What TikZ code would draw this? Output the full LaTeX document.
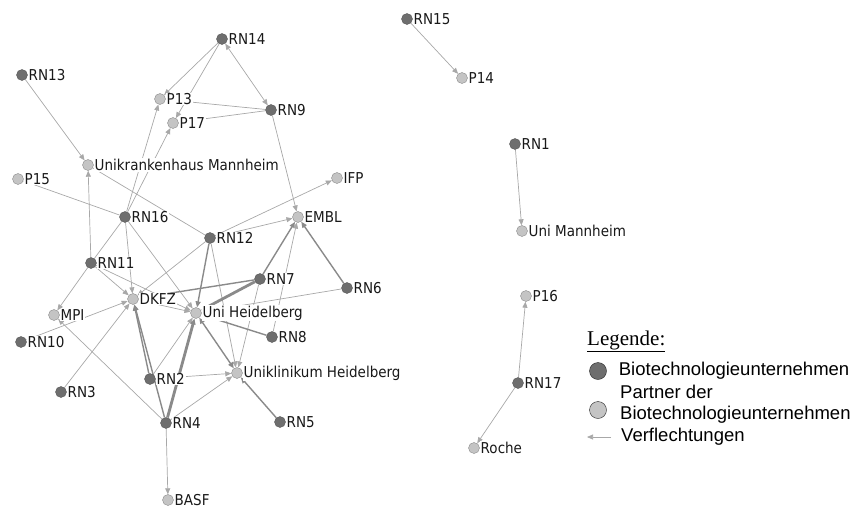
\documentclass[tikz,border=0pt]{standalone}
\usepackage{fontspec}
\setmainfont{Liberation Serif}
\newfontfamily\netfont[FakeStretch=0.9]{DejaVu Sans}
\newfontfamily\legfont{Liberation Sans}
\usetikzlibrary{arrows.meta,backgrounds,positioning}

\definecolor{firmgray}{HTML}{6E6E6E}
\definecolor{partnergray}{HTML}{C4C4C4}
\definecolor{tiegray}{HTML}{A8A8A8}
\definecolor{strongtie}{HTML}{8A8A8A}

\tikzset{
	firm/.style={
		circle, inner sep=0pt, minimum size=11pt,
		fill=firmgray, draw=black!65, thin
	},
	%
	partner/.style={
		circle, inner sep=0pt, minimum size=11pt,
		fill=partnergray, draw=black!45, thin
	},
	%
	lbl/.style={
		fill=white, inner sep=0.8pt, text=black!90,
		font=\netfont\fontsize{15}{15}\selectfont
	},
	%
	tie/.style={draw=tiegray, line width=0.7pt},
	link/.style={tie, -{Triangle[length=6pt,width=5pt]}},
	twoway/.style={link, {Triangle[length=6pt,width=5pt]}-{Triangle[length=6pt,width=5pt]}},
	midlink/.style={link, draw=strongtie, line width=1.4pt},
	heavylink/.style={link, draw=strongtie, line width=2.8pt},
	%
	legtext/.style={inner sep=0pt, font=\legfont\fontsize{18.5}{21}\selectfont, align=left}
}

\begin{document}
\begin{tikzpicture}[x=1pt,y=-1pt]
\useasboundingbox (0,0) rectangle (857,509);

%actors
\node[firm, label={[lbl]right:RN14}] (rn14) at (222,39) {};
\node[firm, label={[lbl]right:RN13}] (rn13) at (22,75) {};
\node[partner, label={[lbl]right:P13}] (p13) at (160,99) {};
\node[partner, label={[lbl]right:P17}] (p17) at (173,123) {};
\node[firm, label={[lbl]right:RN9}] (rn9) at (271,110) {};
\node[partner, label={[lbl]right:Unikrankenhaus Mannheim}] (ukm) at (88,165) {};
\node[partner, label={[lbl]right:P15}] (p15) at (18,179) {};
\node[firm, label={[lbl]right:RN16}] (rn16) at (125,217) {};
\node[partner, label={[lbl]right:IFP}] (ifp) at (337,178) {};
\node[partner, label={[lbl]right:EMBL}] (embl) at (298,217) {};
\node[firm, label={[lbl]right:RN12}] (rn12) at (210,238) {};
\node[firm, label={[lbl]right:RN11}] (rn11) at (91,263) {};
\node[firm, label={[lbl]right:RN7}] (rn7) at (260,279) {};
\node[firm, label={[lbl]right:RN6}] (rn6) at (347,288) {};
\node[partner, label={[lbl]right:MPI}] (mpi) at (54,315) {};
\node[partner, label={[lbl]right:DKFZ}] (dkfz) at (133,299) {};
\node[partner, label={[lbl]right:Uni Heidelberg}] (uh) at (196,313) {};
\node[firm, label={[lbl]right:RN8}] (rn8) at (272,337) {};
\node[firm, label={[lbl]right:RN10}] (rn10) at (21,342) {};
\node[firm, label={[lbl]right:RN2}] (rn2) at (150,379) {};
\node[partner, label={[lbl]right:Uniklinikum Heidelberg}] (ukl) at (237,373) {};
\node[firm, label={[lbl]right:RN3}] (rn3) at (61,392) {};
\node[firm, label={[lbl]right:RN4}] (rn4) at (166,423) {};
\node[firm, label={[lbl]right:RN5}] (rn5) at (280,422) {};
\node[partner, label={[lbl]right:BASF}] (basf) at (168,500) {};

\node[firm, label={[lbl]right:RN15}] (rn15) at (407,19) {};
\node[partner, label={[lbl]right:P14}] (p14) at (462,78) {};
\node[firm, label={[lbl]right:RN1}] (rn1) at (515,144) {};
\node[partner, label={[lbl]right:Uni Mannheim}] (unima) at (522,231) {};
\node[partner, label={[lbl]right:P16}] (p16) at (526,296) {};
\node[firm, label={[lbl]right:RN17}] (rn17) at (518,383) {};
\node[partner, label={[lbl]right:Roche}] (roche) at (474,448) {};

%ties
\begin{scope}[on background layer]
\draw[link] (rn14) -- (p13);
\draw[link] (rn14) -- (p17);
\draw[twoway] (rn14) -- (rn9);
\draw[link] (rn9) -- (p13);
\draw[link] (rn9) -- (p17);
\draw[link] (rn16) -- (p13);
\draw[link] (rn16) -- (p17);
\draw[link] (rn13) -- (ukm);
\draw[link] (rn11) -- (ukm);
\draw[tie] (rn12) -- (ukm);
\draw[tie] (p15) -- (rn16);
\draw[tie] (rn16) -- (rn11);
\draw[link] (rn16) -- (dkfz);
\draw[link] (rn16) -- (uh);
\draw[link] (rn11) -- (dkfz);
\draw[link] (rn11) -- (uh);
\draw[link] (rn11) -- (mpi);
\draw[link] (rn12) -- (dkfz);
\draw[link] (rn12) -- (ifp);
\draw[link] (rn12) -- (embl);
\draw[link] (rn12) -- (ukl);
\draw[midlink] (rn12) -- (uh);
\draw[link] (rn9) -- (embl);
\draw[midlink] (rn7) -- (embl);
\draw[midlink] (rn6) -- (embl);
\draw[link] (rn8) -- (embl);
\draw[midlink] (rn7) -- (dkfz);
\draw[heavylink] (rn7) -- (uh);
\draw[link] (rn7) -- (ukl);
\draw[link] (rn6) -- (uh);
\draw[midlink] (rn8) -- (uh);
\draw[link] (dkfz) -- (uh);
\draw[link] (rn3) -- (dkfz);
\draw[link] (rn10) -- (dkfz);
\draw[link] (rn4) -- (mpi);
\draw[midlink] (rn2) -- (dkfz);
\draw[midlink] (rn4) -- (dkfz);
\draw[link] (rn2) -- (uh);
\draw[heavylink] (rn4) -- (uh);
\draw[twoway, draw=strongtie, line width=1.4pt] (uh) -- (ukl);
\draw[link] (rn2) -- (ukl);
\draw[link] (rn4) -- (ukl);
\draw[midlink] (rn5) -- (ukl);
\draw[link] (rn4) -- (basf);
\draw[link] (rn15) -- (p14);
\draw[link] (rn1) -- (unima);
\draw[link] (rn17) -- (p16);
\draw[link] (rn17) -- (roche);
\end{scope}

%legend
\node[anchor=west, inner sep=0pt, font=\fontsize{21}{21}\selectfont] (legtitle) at (587,341) {\underline{Legende:}};
\node[firm, minimum size=17pt, draw=black!85] (legfirm) at (598,371) {};
\node[legtext, right=12pt of legfirm] (legfirmtext) {Biotechnologieunternehmen};
\node[partner, minimum size=17pt, draw=black!85] (legpartner) at (598,410) {};
\node[legtext, anchor=west] (legpartnertext) at (620,404) {Partner der\\Biotechnologieunternehmen};
\coordinate (legtie) at (611,437);
\coordinate (legtieend) at (587,437);
\draw[link] (legtie) -- (legtieend);
\node[legtext, anchor=west] (legtietext) at (621,437) {Verflechtungen};

\end{tikzpicture}
\end{document}
